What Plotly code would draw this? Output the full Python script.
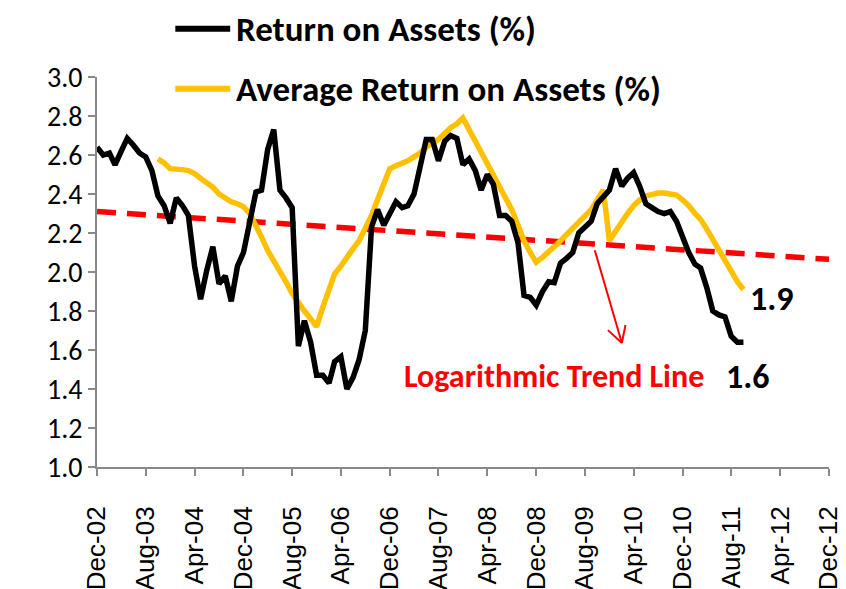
import pandas as pd
import plotly.graph_objects as go

start = "2002-12-01"

roa = [2.64, 2.60, 2.61, 2.55, 2.62, 2.685, 2.65, 2.61, 2.59, 2.52,
       2.39, 2.34, 2.25, 2.38, 2.34, 2.29, 2.03, 1.86, 2.01, 2.13,
       1.94, 1.98, 1.85, 2.03, 2.10, 2.27, 2.41, 2.42, 2.63, 2.73,
       2.42, 2.38, 2.33, 1.62, 1.75, 1.64, 1.47, 1.47, 1.43, 1.54,
       1.565, 1.40, 1.46, 1.55, 1.70, 2.23, 2.32, 2.24, 2.30, 2.36,
       2.33, 2.34, 2.40, 2.54, 2.68, 2.68, 2.57, 2.67, 2.70, 2.685,
       2.55, 2.58, 2.52, 2.42, 2.50, 2.45, 2.29, 2.29, 2.26, 2.15,
       1.88, 1.87, 1.83, 1.90, 1.95, 1.945, 2.045, 2.07, 2.10, 2.20,
       2.23, 2.26, 2.35, 2.39, 2.42, 2.53, 2.44, 2.48, 2.51, 2.44,
       2.35, 2.33, 2.31, 2.30, 2.31, 2.26, 2.18, 2.10, 2.04, 2.02,
       1.92, 1.80, 1.78, 1.77, 1.67, 1.64, 1.64]

avg_start_offset = 10
avg_roa = [2.58, 2.56, 2.53, 2.53, 2.525, 2.52, 2.505, 2.48, 2.455, 2.435,
           2.40, 2.38, 2.36, 2.35, 2.335, 2.30, 2.24, 2.18, 2.11, 2.06,
           2.01, 1.95, 1.89, 1.84, 1.80, 1.76, 1.72, 1.82, 1.91, 1.99,
           2.03, 2.08, 2.12, 2.16, 2.22, 2.29, 2.37, 2.45, 2.53, 2.545,
           2.555, 2.57, 2.59, 2.61, 2.64, 2.66, 2.68, 2.71, 2.74, 2.76,
           2.79, 2.73, 2.67, 2.61, 2.56, 2.50, 2.44, 2.38, 2.32, 2.24,
           2.16, 2.10, 2.05, 2.075, 2.10, 2.13, 2.16, 2.19, 2.225, 2.25,
           2.29, 2.32, 2.37, 2.42, 2.16, 2.21, 2.26, 2.30, 2.34, 2.37,
           2.39, 2.40, 2.405, 2.405, 2.40, 2.395, 2.37, 2.34, 2.30, 2.27,
           2.22, 2.165, 2.11, 2.05, 2.00, 1.95, 1.91]

trend_months = [0, 20, 40, 59, 79, 108, 120]
trend_vals = [2.31, 2.27, 2.23, 2.19, 2.15, 2.09, 2.065]

y_ticks = [1.0, 1.2, 1.4, 1.6, 1.8, 2.0, 2.2, 2.4, 2.6, 2.8, 3.0]

base = pd.Timestamp(start)
def month_dates(offset, n):
    return [base + pd.DateOffset(months=offset + i) for i in range(n)]

x_roa = month_dates(0, len(roa))
x_avg = month_dates(avg_start_offset, len(avg_roa))
x_trend = [base + pd.DateOffset(months=m) for m in trend_months]

fig = go.Figure()
fig.add_trace(go.Scatter(x=x_trend, y=trend_vals, mode="lines",
                         line=dict(color="#FF0000", width=5.5, dash="19px,11px"),
                         showlegend=False, hoverinfo="skip"))
fig.add_trace(go.Scatter(x=x_avg, y=avg_roa, mode="lines",
                         line=dict(color="#FFC000", width=5.5),
                         name="Average Return on Assets (%)", showlegend=False))
fig.add_trace(go.Scatter(x=x_roa, y=roa, mode="lines",
                         line=dict(color="#000000", width=5.5),
                         name="Return on Assets (%)", showlegend=False))

axis_col = "#898989"
fig.update_layout(
    width=838, height=581,
    margin=dict(l=89, r=17, t=69, b=122),
    paper_bgcolor="white", plot_bgcolor="white",
    xaxis=dict(type="date", range=[start, "2012-12-01"], automargin=False,
               tick0=start, dtick="M8", tickformat="%b-%y",
               tickangle=-90, showgrid=False, zeroline=False,
               showline=True, linecolor=axis_col, linewidth=2,
               ticks="outside", ticklen=7, tickcolor=axis_col, tickwidth=2,
               ticklabelstandoff=20,
               tickfont=dict(family="Liberation Sans", size=26, color="black")),
    yaxis=dict(range=[1.0, 3.0], tickvals=y_ticks, automargin=False,
               ticktext=[f"{v:.1f}" for v in y_ticks],
               showgrid=False, zeroline=False,
               showline=True, linecolor=axis_col, linewidth=2,
               ticks="outside", ticklen=7, tickcolor=axis_col, tickwidth=2,
               tickfont=dict(family="Carlito, Lato", size=28, color="black")),
)

bold = "Carlito, Lato"
# manual legend
legend_items = [("Return on Assets (%)", "#000000", 1.124),
                ("Average Return on Assets (%)", "#FFC000", 0.970)]
for label, col, yy in legend_items:
    fig.add_shape(type="line", xref="paper", yref="paper",
                  x0=0.107, x1=0.182, y0=yy, y1=yy,
                  line=dict(color=col, width=6))
    fig.add_annotation(xref="paper", yref="paper", x=0.187, y=yy,
                       text=f"<b>{label}</b>", showarrow=False,
                       xanchor="left", yanchor="middle",
                       font=dict(family=bold, size=35, color="black"))

fig.add_annotation(xref="paper", yref="paper", x=0.624, y=0.231,
                   text="<b>Logarithmic Trend Line</b>", showarrow=False,
                   xanchor="center", yanchor="middle",
                   font=dict(family=bold, size=32, color="#FF0000"))
fig.add_annotation(xref="paper", yref="paper", x=0.889, y=0.231,
                   text="<b>1.6</b>", showarrow=False,
                   xanchor="center", yanchor="middle",
                   font=dict(family=bold, size=34, color="black"))
fig.add_annotation(xref="paper", yref="paper", x=0.922, y=0.431,
                   text="<b>1.9</b>", showarrow=False,
                   xanchor="center", yanchor="middle",
                   font=dict(family=bold, size=34, color="black"))

# red arrow
arrow = dict(color="#FF0000", width=2)
fig.add_shape(type="line", xref="paper", yref="paper",
              x0=0.680, y0=0.556, x1=0.717, y1=0.318, line=arrow)
fig.add_shape(type="line", xref="paper", yref="paper",
              x0=0.698, y0=0.351, x1=0.717, y1=0.318, line=arrow)
fig.add_shape(type="line", xref="paper", yref="paper",
              x0=0.722, y0=0.364, x1=0.717, y1=0.318, line=arrow)

fig.write_html("out.html")
